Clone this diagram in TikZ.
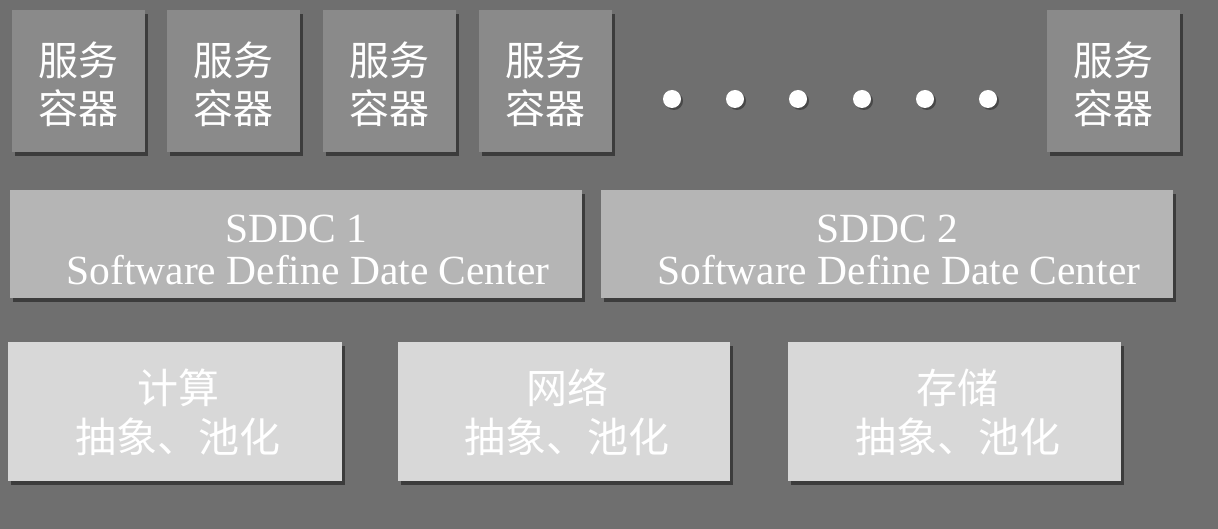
\documentclass[tikz,border=0pt]{standalone}
\usepackage{fontspec}
\setmainfont{Liberation Serif}
\newfontfamily\cjk{Noto Sans CJK SC}
\usetikzlibrary{shadows}
\definecolor{bgc}{HTML}{6F6F6F}
\definecolor{contc}{HTML}{8A8A8A}
\definecolor{sddcc}{HTML}{B5B5B5}
\definecolor{resc}{HTML}{D8D8D8}
\tikzset{
  boxbase/.style={draw=none, inner sep=0pt,
    drop shadow={shadow xshift=3pt, shadow yshift=-4pt, fill=black, opacity=0.45}},
  contbox/.style={boxbase, fill=contc, minimum width=133pt, minimum height=142pt},
  sddcbox/.style={boxbase, fill=sddcc, minimum width=572pt, minimum height=108pt},
  resbox/.style={boxbase, fill=resc, minimum width=333pt, minimum height=139pt},
  dotc/.style={circle, fill=white, inner sep=0pt, minimum size=18pt,
    drop shadow={shadow xshift=2pt, shadow yshift=-2pt, fill=black, opacity=0.35}},
  lbl/.style={text=white, align=center, inner sep=0pt},
  contlbl/.style={lbl, font=\cjk\fontsize{40}{48}\selectfont},
  sddclbl/.style={lbl, font=\fontsize{41.5}{43}\selectfont},
  reslbl/.style={lbl, font=\cjk\fontsize{41}{49}\selectfont}
}
\begin{document}
\begin{tikzpicture}[x=1pt,y=-1pt]
\fill[bgc] (0,0) rectangle (1218,529);
\useasboundingbox (0,0) rectangle (1218,529);
\node[contbox] (c1) at (78.5,81) {};
\node[contbox] (c2) at (233.5,81) {};
\node[contbox] (c3) at (389,81) {};
\node[contbox] (c4) at (545,81) {};
\node[contbox] (c5) at (1113,81) {};
\foreach \n in {c1,c2,c3,c4,c5}
  \node[contlbl] (\n t) at ([yshift=-3pt]\n.center) {服务\\容器};
\foreach \i/\x in {1/672,2/735,3/798,4/862,5/925,6/988}
  \node[dotc] (d\i) at (\x,99) {};
\node[sddcbox] (s1) at (296,244) {};
\node[sddcbox] (s2) at (887,244) {};
\foreach \n/\k in {s1/1,s2/2}{
  \node[sddclbl] (\n a) at ([yshift=15pt]\n.center) {SDDC \k};
  \node[sddclbl] (\n b) at ([xshift=12pt,yshift=-26pt]\n.center) {Software Define Date Center};
}
\node[resbox, minimum width=334pt] (r1) at (175,411.5) {};
\node[resbox, minimum width=332pt] (r2) at (564,411.5) {};
\node[resbox] (r3) at (954.5,411.5) {};
\foreach \n/\t in {r1/计算,r2/网络,r3/存储}
  \node[reslbl] (\n t) at ([xshift=3pt,yshift=-1pt]\n.center) {\t\\抽象、池化};
\end{tikzpicture}
\end{document}
